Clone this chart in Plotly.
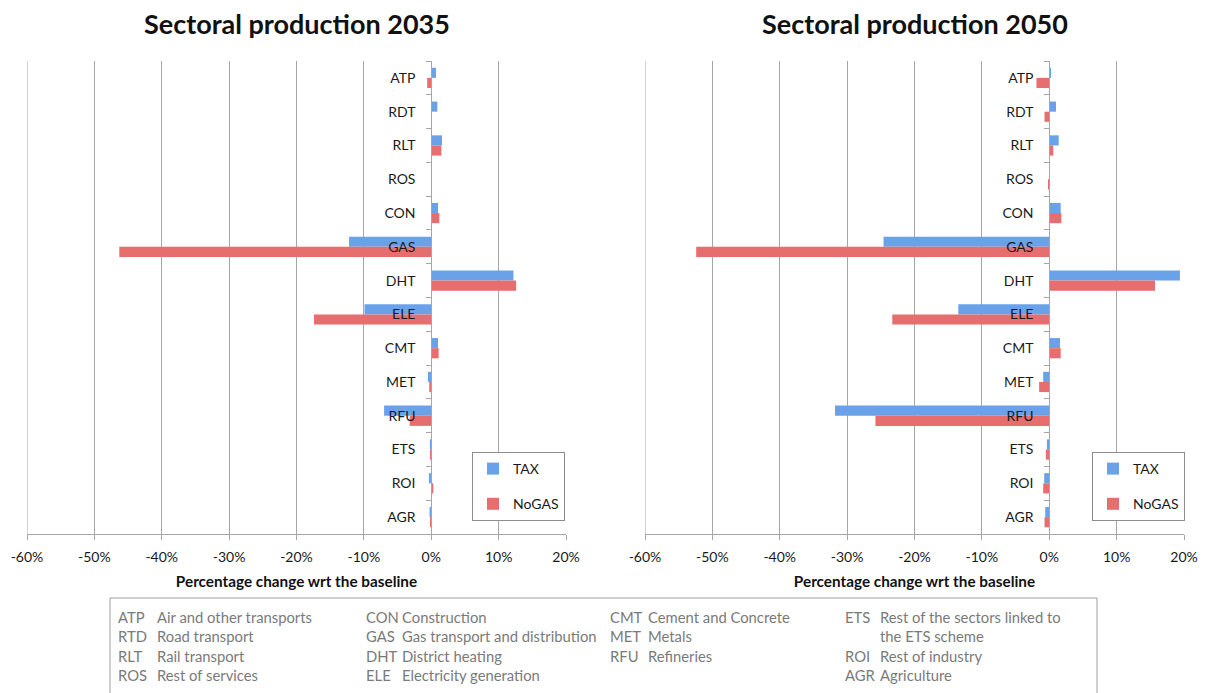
import plotly.graph_objects as go

# ---------------- data ----------------
CATEGORIES = ["ATP", "RDT", "RLT", "ROS", "CON", "GAS", "DHT",
              "ELE", "CMT", "MET", "RFU", "ETS", "ROI", "AGR"]
TAX_2035 = [0.7, 0.9, 1.6, 0.1, 1.0, -12.2, 12.2, -9.9, 1.0, -0.5, -7.0, -0.2, -0.35, -0.25]
NOGAS_2035 = [-0.6, 0.1, 1.5, 0.1, 1.2, -46.3, 12.6, -17.4, 1.1, -0.3, -3.2, -0.1, 0.3, -0.1]
TAX_2050 = [0.2, 1.0, 1.4, 0.1, 1.7, -24.6, 19.4, -13.5, 1.6, -0.9, -31.8, -0.35, -0.75, -0.6]
NOGAS_2050 = [-1.9, -0.7, 0.6, -0.1, 1.8, -52.4, 15.7, -23.3, 1.7, -1.5, -25.8, -0.5, -0.9, -0.7]

TICK_VALS = [-60, -50, -40, -30, -20, -10, 0, 10, 20]
TICK_TEXT = ["-60%", "-50%", "-40%", "-30%", "-20%", "-10%", "0%", "10%", "20%"]

TITLES = ["Sectoral production 2035", "Sectoral production 2050"]
X_TITLE = "Percentage change wrt the baseline"

TABLE_COLS = [
    [("ATP", "Air and other transports"), ("RTD", "Road transport"),
     ("RLT", "Rail transport"), ("ROS", "Rest of services")],
    [("CON", "Construction"), ("GAS", "Gas transport and distribution"),
     ("DHT", "District heating"), ("ELE", "Electricity generation")],
    [("CMT", "Cement and Concrete"), ("MET", "Metals"), ("RFU", "Refineries"), ("", "")],
    [("ETS", "Rest of the sectors linked to"), ("", "the ETS scheme"),
     ("ROI", "Rest of industry"), ("AGR", "Agriculture")],
]

# ---------------- layout helpers ----------------
W, H = 1206, 693
OFF = 8  # page body margin in the browser
FONT = "Lato, 'Open Sans', sans-serif"
BLUE = "#6AA2EA"
RED = "#E66E6E"
GRID = "#A6A6A6"

def px(x):
    return (x - OFF) / W

def py(y):
    return 1 - (y - OFF) / H

XMIN, XMAX = -60, 20
PANELS = [(27, 566), (645, 1184)]
PLOT_TOP, PLOT_BOT = 61, 534

fig = go.Figure()

series = [(TAX_2035, NOGAS_2035), (TAX_2050, NOGAS_2050)]
for i, (tax, nogas) in enumerate(series):
    sfx = "" if i == 0 else "2"
    leg = "legend" if i == 0 else "legend2"
    fig.add_trace(go.Bar(y=CATEGORIES, x=tax, orientation="h", name="TAX",
                         marker=dict(color=BLUE, line=dict(width=0)),
                         xaxis="x" + sfx, yaxis="y" + sfx, legend=leg,
                         legendgroup="tax" + sfx))
    fig.add_trace(go.Bar(y=CATEGORIES, x=nogas, orientation="h", name="NoGAS",
                         marker=dict(color=RED, line=dict(width=0)),
                         xaxis="x" + sfx, yaxis="y" + sfx, legend=leg,
                         legendgroup="nogas" + sfx))

layout = dict(
    width=W, height=H, margin=dict(l=0, r=0, t=0, b=0, autoexpand=False),
    paper_bgcolor="white", plot_bgcolor="white",
    font=dict(family=FONT, color="#1a1a1a"),
    barmode="group", bargap=0.40, bargroupgap=0.0,
    showlegend=True,
)

shapes = []
for i, (x0, x1) in enumerate(PANELS):
    sfx = "" if i == 0 else "2"
    dom = [px(x0), px(x1)]
    zero_pos = dom[0] + (0 - XMIN) / (XMAX - XMIN) * (dom[1] - dom[0])
    layout["xaxis" + sfx] = dict(
        domain=dom, range=[XMIN, XMAX], anchor="y" + sfx, automargin=False,
        tickvals=TICK_VALS, ticktext=TICK_TEXT,
        showgrid=True, gridcolor=GRID, gridwidth=1,
        zeroline=False, showline=True, linecolor=GRID, linewidth=1,
        ticks="outside", ticklen=5, tickcolor=GRID, ticklabelstandoff=5,
        tickfont=dict(size=14, color="#1a1a1a"),
        title=dict(text="<b>" + X_TITLE + "</b>", font=dict(size=15.3, color="#111"),
                   standoff=12),
        fixedrange=True,
    )
    layout["yaxis" + sfx] = dict(
        domain=[py(PLOT_BOT), py(PLOT_TOP)], anchor="free", position=zero_pos,
        automargin=False,
        type="category", categoryorder="array", categoryarray=CATEGORIES,
        range=[len(CATEGORIES) - 0.5, -0.5],
        showgrid=False, zeroline=False, showline=True, linecolor=GRID, linewidth=1,
        ticks="outside", ticklen=5, tickcolor=GRID, tickson="boundaries",
        tickfont=dict(size=14, color="#1a1a1a"), ticklabelstandoff=13,
        fixedrange=True,
    )
    # left edge grid line (at range minimum)
    shapes.append(dict(type="line", xref="x" + sfx, yref="y" + sfx + " domain",
                       x0=XMIN, x1=XMIN, y0=0, y1=1,
                       line=dict(color=GRID, width=1), layer="below"))

legend_common = dict(
    bgcolor="white", bordercolor="#8c8c8c", borderwidth=1,
    font=dict(size=14, color="#1a1a1a"),
    traceorder="grouped", tracegroupgap=14,
    xanchor="left", yanchor="top", itemwidth=30,
)
layout["legend"] = dict(x=px(472), y=py(452), **legend_common)
layout["legend2"] = dict(x=px(1092), y=py(452), **legend_common)

annotations = []
for i, (x0, x1) in enumerate(PANELS):
    annotations.append(dict(
        text="<b>" + TITLES[i] + "</b>", x=px((x0 + x1) / 2), y=py(23),
        xref="paper", yref="paper", xanchor="center", yanchor="middle",
        showarrow=False, font=dict(size=27, color="#111"),
    ))

# table of abbreviations
CODE_X = [116, 364, 608, 843]
DESC_X = [155, 400, 646, 878]
ROW_Y = [617, 636, 656, 675]
for c, col in enumerate(TABLE_COLS):
    for r, (code, desc) in enumerate(col):
        if code:
            annotations.append(dict(text=code, x=px(CODE_X[c]), y=py(ROW_Y[r]),
                                    xref="paper", yref="paper", xanchor="left",
                                    yanchor="middle", showarrow=False,
                                    font=dict(size=14.8, color="#7a7a7a")))
        if desc:
            annotations.append(dict(text=desc, x=px(DESC_X[c]), y=py(ROW_Y[r]),
                                    xref="paper", yref="paper", xanchor="left",
                                    yanchor="middle", showarrow=False,
                                    font=dict(size=14.8, color="#7a7a7a")))
layout["annotations"] = annotations
shapes.append(dict(type="rect", xref="paper", yref="paper",
                   x0=px(110), x1=px(1097), y0=py(710), y1=py(598),
                   line=dict(color="#a0a0a0", width=1), fillcolor="rgba(0,0,0,0)"))
layout["shapes"] = shapes

fig.update_layout(**layout)
fig.write_html("out.html")
